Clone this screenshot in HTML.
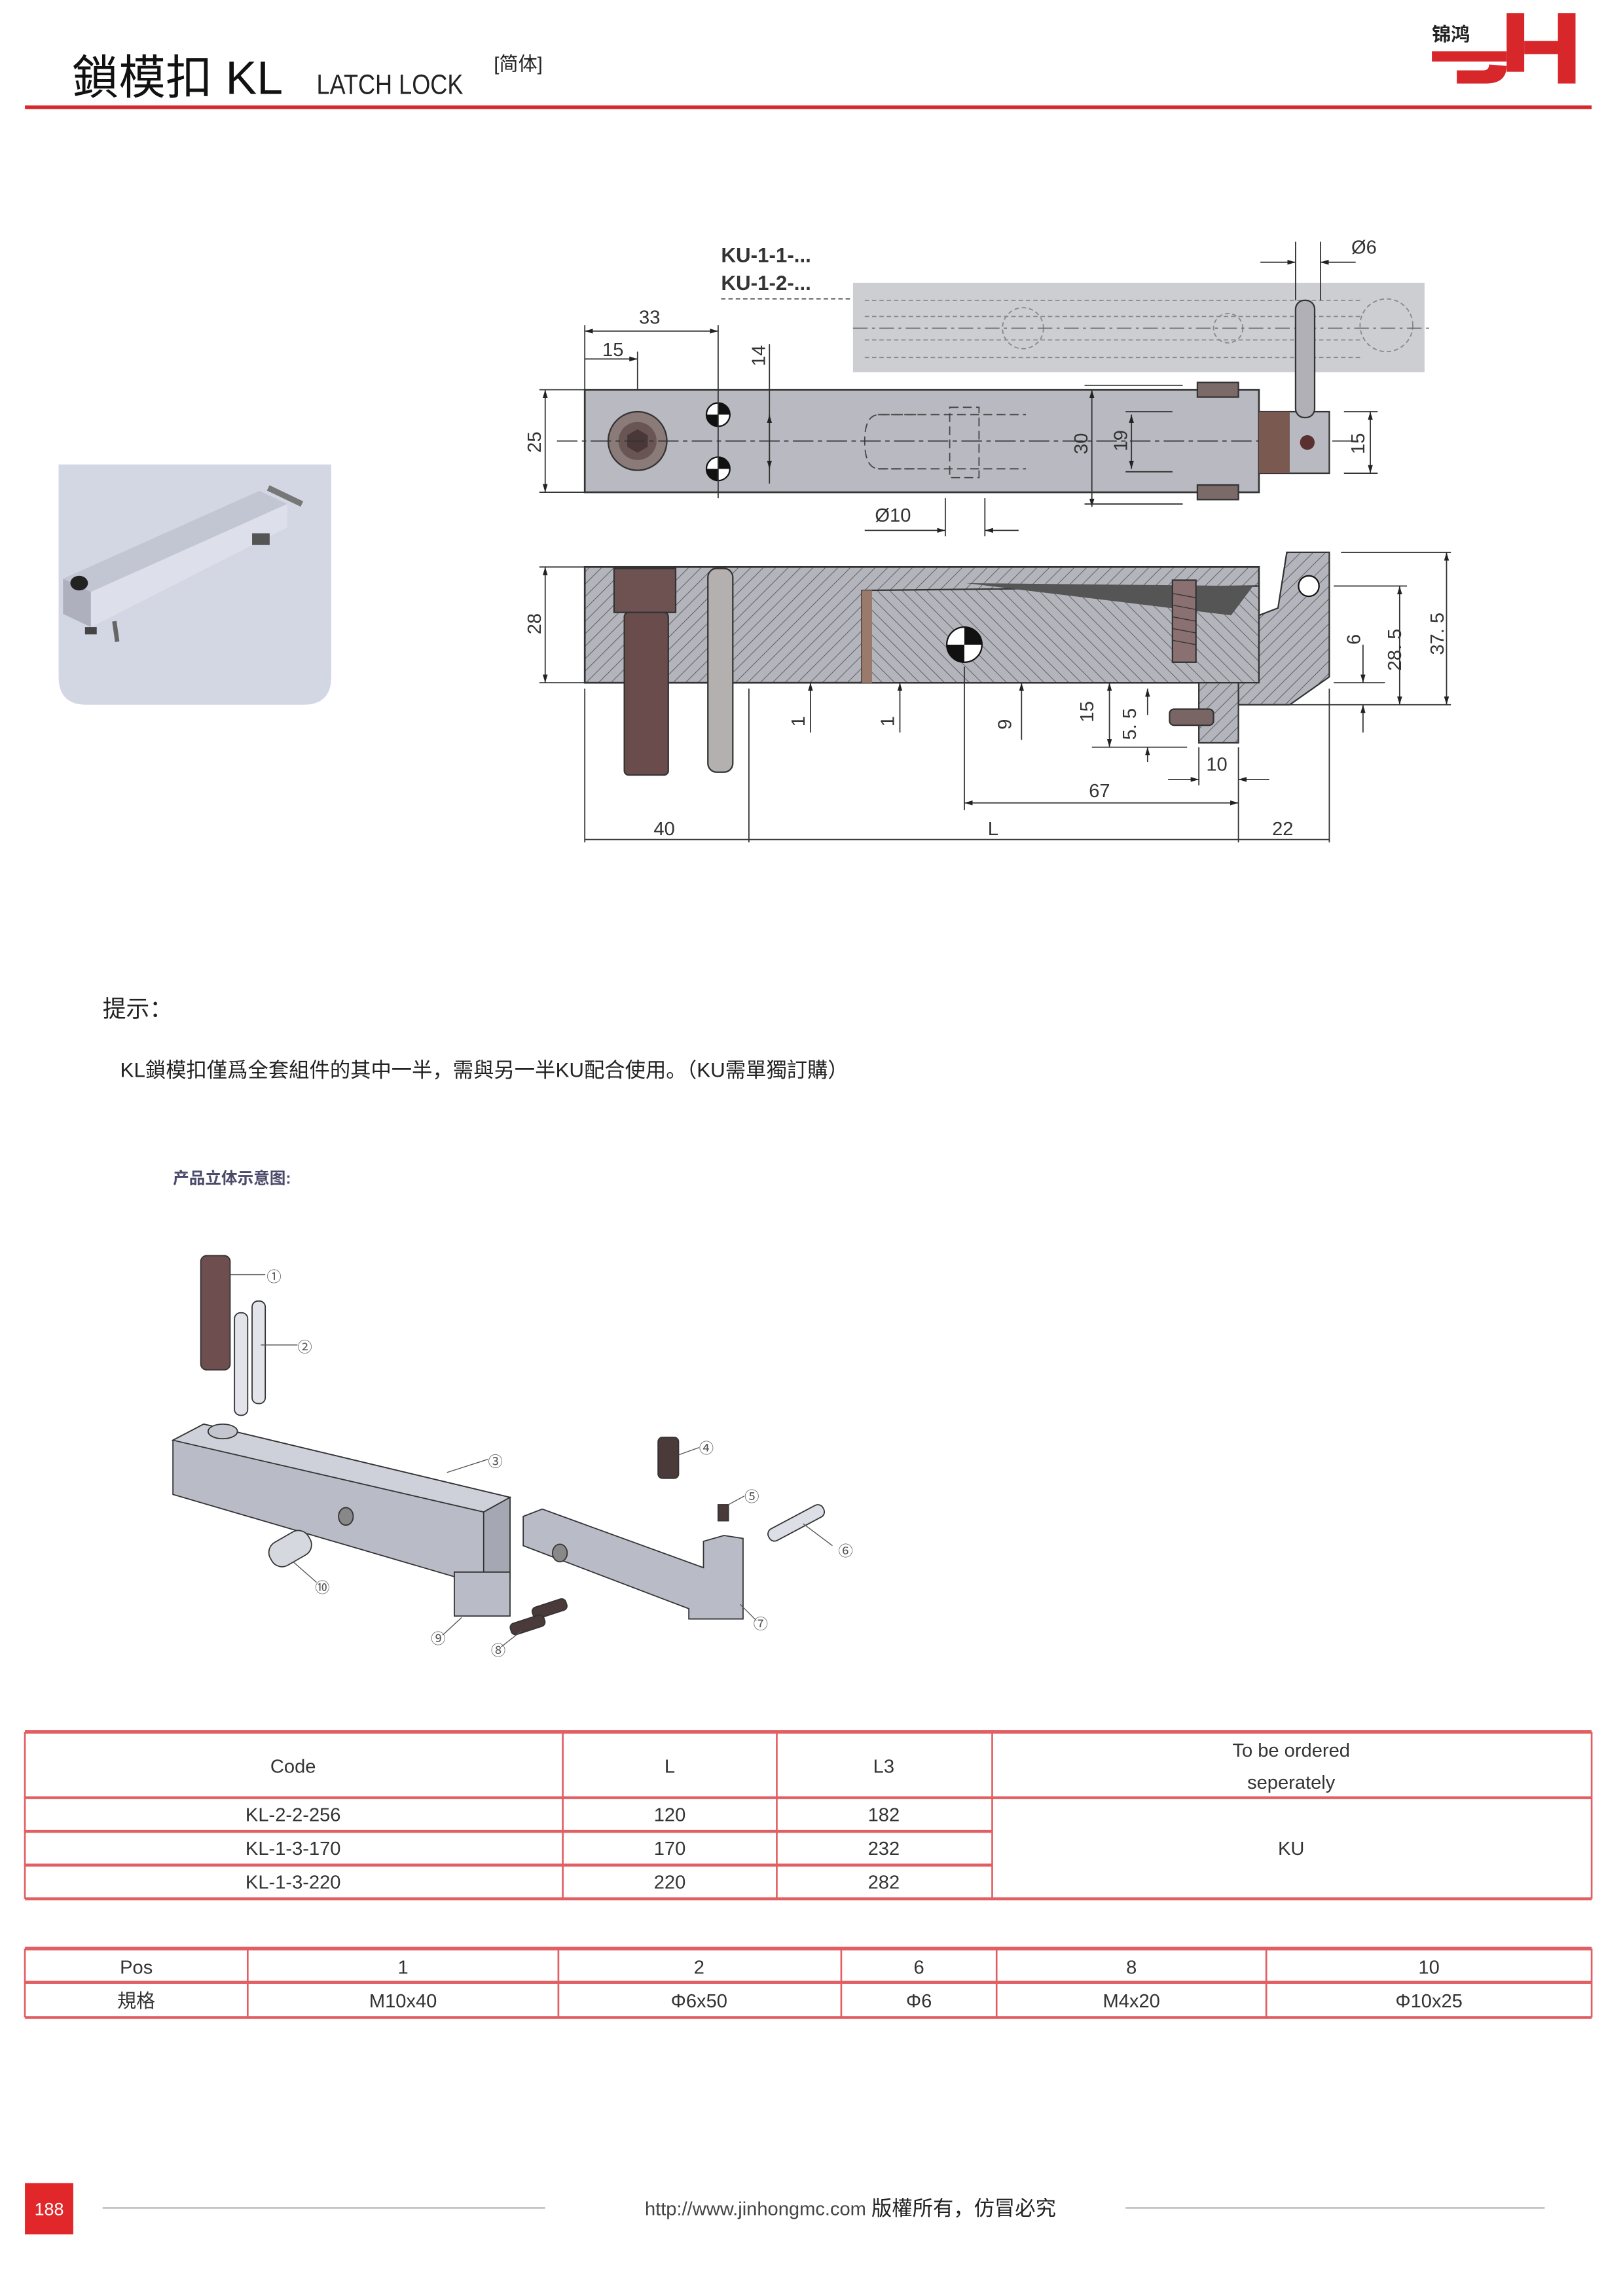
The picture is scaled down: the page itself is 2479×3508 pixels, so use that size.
<!DOCTYPE html>
<html><head><meta charset="utf-8"><style>
html,body{margin:0;padding:0;background:#fff}
svg{display:block}
text{font-family:"Liberation Sans","Noto Sans CJK SC",sans-serif}
</style></head><body>
<svg width="2479" height="3508" viewBox="0 0 1107.4 1567.1" preserveAspectRatio="none" xmlns="http://www.w3.org/2000/svg">
<defs>
<pattern id="h" width="6" height="6" patternUnits="userSpaceOnUse" patternTransform="rotate(45)">
<rect width="6" height="6" fill="#b4b5bc"/><line x1="0" y1="0" x2="0" y2="6" stroke="#555" stroke-width="0.8"/></pattern>
<pattern id="h2" width="6" height="6" patternUnits="userSpaceOnUse" patternTransform="rotate(-45)">
<rect width="6" height="6" fill="#b4b5bc"/><line x1="0" y1="0" x2="0" y2="6" stroke="#555" stroke-width="0.8"/></pattern>
<marker id="a" viewBox="0 0 10 10" refX="10" refY="5" markerWidth="7" markerHeight="7" orient="auto-start-reverse"><path d="M0,2 L10,5 L0,8z" fill="#222"/></marker>
</defs>
<rect width="1107.4" height="1567.1" fill="#fff"/>
<!-- header -->
<text x="49" y="64" font-size="32" fill="#111">鎖模扣 KL</text>
<text x="216" y="64" font-size="19" fill="#222" textLength="100" lengthAdjust="spacingAndGlyphs">LATCH LOCK</text>
<text x="337" y="48" font-size="13" fill="#222">[简体]</text>
<rect x="17" y="72" width="1069" height="2.5" fill="#d8272a"/>
<!-- logo -->
<g fill="#d8272a">
<rect x="1028" y="9" width="12" height="40"/>
<rect x="1063" y="9" width="12" height="48"/>
<rect x="1040" y="28" width="24" height="9"/>
<path d="M1028 45 q0 12 -14 12 h-20 v-9 h18 q4 0 4 -4 z"/>
<rect x="977" y="35" width="51" height="7"/>
</g>
<text x="977" y="28" font-size="13" font-weight="bold" fill="#222">锦鸿</text>
<!-- photo -->
<path d="M40 317 H226 V462 Q226 481 207 481 H59 Q40 481 40 462 Z" fill="#d3d7e4"/>
<polygon points="43,395 177,335 196,344 62,404" fill="#c2c5d2"/>
<polygon points="62,404 196,344 196,360 62,428" fill="#dde0ea"/>
<polygon points="43,395 62,404 62,428 43,419" fill="#aeb1bd"/>
<ellipse cx="54" cy="398" rx="6" ry="5" fill="#222"/>
<line x1="183" y1="333" x2="206" y2="344" stroke="#777" stroke-width="4"/>
<rect x="172" y="364" width="12" height="8" fill="#555"/>
<line x1="78" y1="424" x2="80" y2="438" stroke="#666" stroke-width="3"/>
<rect x="58" y="428" width="8" height="5" fill="#444"/>
<!-- KU band -->
<rect x="582" y="193" width="390" height="61" fill="#cdced2"/>
<g stroke="#888" stroke-width="0.8" fill="none" stroke-dasharray="3,2">
<line x1="590" y1="205" x2="930" y2="205"/><line x1="590" y1="216" x2="930" y2="216"/><line x1="590" y1="232" x2="930" y2="232"/><line x1="590" y1="244" x2="930" y2="244"/>
<circle cx="698" cy="224" r="14"/><circle cx="838" cy="224" r="10"/><circle cx="946" cy="222" r="18"/>
</g>
<line x1="492" y1="204" x2="582" y2="204" stroke="#444" stroke-dasharray="3,2" stroke-width="0.8"/>
<line x1="582" y1="224" x2="975" y2="224" stroke="#666" stroke-dasharray="10,3,2,3" stroke-width="0.7"/>
<text x="492" y="179" font-size="14" font-weight="bold" fill="#333">KU-1-1-...</text>
<text x="492" y="198" font-size="14" font-weight="bold" fill="#333">KU-1-2-...</text>
<!-- top view -->
<rect x="399" y="266" width="460" height="70" fill="#b9bac1" stroke="#333" stroke-width="1.2"/>
<circle cx="435" cy="301" r="20" fill="#8a7a78" stroke="#333"/>
<circle cx="435" cy="301" r="13" fill="#6a5555"/>
<polygon points="435,293 442,297 442,305 435,309 428,305 428,297" fill="#4a3838"/>
<g fill="#fff" stroke="#111"><circle cx="490" cy="283" r="8"/><circle cx="490" cy="320" r="8"/></g>
<path d="M482,283 A8 8 0 0 0 490 291 V283Z M490,275 A8 8 0 0 1 498 283 H490Z M482,320 A8 8 0 0 0 490 328 V320Z M490,312 A8 8 0 0 1 498 320 H490Z" fill="#111"/>
<g stroke="#444" stroke-width="0.8" fill="none" stroke-dasharray="6,3">
<path d="M625 283 H600 Q590 283 590 301 Q590 320 600 320 H625"/>
<rect x="648" y="278" width="20" height="48"/><line x1="599" y1="283" x2="700" y2="283"/><line x1="599" y1="320" x2="700" y2="320"/>
</g>
<line x1="380" y1="301" x2="925" y2="301" stroke="#333" stroke-width="0.7" stroke-dasharray="14,3,3,3"/>
<rect x="817" y="261" width="28" height="10" fill="#7a6a68" stroke="#333"/>
<rect x="817" y="331" width="28" height="10" fill="#7a6a68" stroke="#333"/>
<rect x="859" y="281" width="48" height="42" fill="#b9bac1" stroke="#333"/>
<rect x="859" y="281" width="21" height="42" fill="#7a5a50"/>
<circle cx="892" cy="302" r="5" fill="#5a3030"/>
<rect x="884" y="205" width="13" height="80" rx="6" fill="#b0b0b6" stroke="#333"/>
<!-- top dims -->
<g stroke="#333" stroke-width="0.8" fill="none">
<line x1="399" y1="222" x2="399" y2="266"/><line x1="490" y1="222" x2="490" y2="340"/><line x1="435" y1="240" x2="435" y2="266"/>
<line x1="399" y1="226" x2="490" y2="226" marker-start="url(#a)" marker-end="url(#a)"/>
<line x1="399" y1="245" x2="435" y2="245" marker-end="url(#a)"/>
<line x1="525" y1="235" x2="525" y2="330"/><line x1="525" y1="283" x2="525" y2="320" marker-start="url(#a)" marker-end="url(#a)"/>
<line x1="368" y1="266" x2="399" y2="266"/><line x1="368" y1="336" x2="399" y2="336"/>
<line x1="372" y1="266" x2="372" y2="336" marker-start="url(#a)" marker-end="url(#a)"/>
<line x1="745" y1="266" x2="745" y2="346" marker-start="url(#a)" marker-end="url(#a)"/>
<line x1="740" y1="263" x2="807" y2="263"/><line x1="740" y1="344" x2="807" y2="344"/>
<line x1="772" y1="283" x2="772" y2="320" marker-start="url(#a)" marker-end="url(#a)"/>
<line x1="768" y1="281" x2="800" y2="281"/><line x1="768" y1="322" x2="800" y2="322"/>
<line x1="935" y1="281" x2="935" y2="323" marker-start="url(#a)" marker-end="url(#a)"/>
<line x1="917" y1="281" x2="940" y2="281"/><line x1="917" y1="323" x2="940" y2="323"/>
<line x1="645" y1="340" x2="645" y2="366"/><line x1="672" y1="340" x2="672" y2="366"/>
<line x1="590" y1="362" x2="645" y2="362" marker-end="url(#a)"/><line x1="695" y1="362" x2="672" y2="362" marker-end="url(#a)"/>
<line x1="884" y1="165" x2="884" y2="205"/><line x1="901" y1="165" x2="901" y2="205"/>
<line x1="860" y1="179" x2="884" y2="179" marker-end="url(#a)"/><line x1="925" y1="179" x2="901" y2="179" marker-end="url(#a)"/>
</g>
<g font-size="13" fill="#333">
<text x="436" y="221">33</text><text x="411" y="243">15</text>
<text x="597" y="356">Ø10</text><text x="922" y="173">Ø6</text>
<text transform="translate(369,309) rotate(-90)">25</text>
<text transform="translate(522,250) rotate(-90)">14</text>
<text transform="translate(742,310) rotate(-90)">30</text>
<text transform="translate(769,308) rotate(-90)">19</text>
<text transform="translate(931,310) rotate(-90)">15</text>
</g>
<!-- section view -->
<rect x="399" y="387" width="460" height="79" fill="url(#h)" stroke="#333" stroke-width="1.2"/>
<polygon points="588,403 859,400 859,466 588,466" fill="url(#h2)" stroke="#333"/>
<rect x="588" y="403" width="7" height="63" fill="#9a7a6a"/>
<polygon points="659,398 855,400 840,420" fill="#555"/>
<polygon points="878,377 907,377 907,462 880,481 845,481 845,466 859,466 859,420 872,415" fill="url(#h)" stroke="#333"/>
<rect x="818" y="466" width="27" height="41" fill="url(#h)" stroke="#333"/>
<rect x="798" y="484" width="30" height="11" rx="3" fill="#7a6565" stroke="#333"/>
<rect x="800" y="396" width="16" height="56" fill="#8a7070" stroke="#333"/>
<g stroke="#333" stroke-width="0.6"><line x1="800" y1="405" x2="816" y2="408"/><line x1="800" y1="413" x2="816" y2="416"/><line x1="800" y1="421" x2="816" y2="424"/><line x1="800" y1="429" x2="816" y2="432"/><line x1="800" y1="437" x2="816" y2="440"/></g>
<circle cx="658" cy="440" r="12" fill="#fff" stroke="#111"/>
<path d="M646,440 A12 12 0 0 0 658 452 V440Z M658,428 A12 12 0 0 1 670 440 H658Z" fill="#111"/>
<circle cx="893" cy="400" r="7" fill="#fff" stroke="#111"/>
<rect x="419" y="388" width="42" height="30" fill="#6e5252" stroke="#333"/>
<rect x="426" y="418" width="30" height="111" rx="3" fill="#6a4c4c" stroke="#333"/>
<rect x="483" y="388" width="17" height="139" rx="6" fill="#b5b0b0" stroke="#333"/>
<g stroke="#333" stroke-width="0.8" fill="none">
<line x1="368" y1="387" x2="399" y2="387"/><line x1="368" y1="466" x2="399" y2="466"/>
<line x1="372" y1="387" x2="372" y2="466" marker-start="url(#a)" marker-end="url(#a)"/>
<line x1="399" y1="470" x2="399" y2="575"/><line x1="511" y1="470" x2="511" y2="575"/><line x1="845" y1="510" x2="845" y2="575"/><line x1="907" y1="470" x2="907" y2="575"/>
<line x1="399" y1="573" x2="907" y2="573"/>
<line x1="658" y1="455" x2="658" y2="553"/>
<line x1="658" y1="548" x2="845" y2="548" marker-start="url(#a)" marker-end="url(#a)"/>
<line x1="797" y1="532" x2="818" y2="532" marker-end="url(#a)"/><line x1="866" y1="532" x2="845" y2="532" marker-end="url(#a)"/>
<line x1="818" y1="510" x2="818" y2="536"/>
<line x1="553" y1="500" x2="553" y2="466" marker-end="url(#a)"/>
<line x1="614" y1="500" x2="614" y2="466" marker-end="url(#a)"/>
<line x1="697" y1="505" x2="697" y2="466" marker-end="url(#a)"/>
<line x1="757" y1="466" x2="757" y2="510" marker-start="url(#a)" marker-end="url(#a)"/>
<line x1="783" y1="488" x2="783" y2="470" marker-end="url(#a)"/><line x1="783" y1="520" x2="783" y2="510" marker-end="url(#a)"/>
<line x1="745" y1="510" x2="810" y2="510"/>
<line x1="915" y1="377" x2="990" y2="377"/><line x1="910" y1="400" x2="960" y2="400"/><line x1="910" y1="466" x2="945" y2="466"/><line x1="880" y1="481" x2="990" y2="481"/>
<line x1="987" y1="377" x2="987" y2="481" marker-start="url(#a)" marker-end="url(#a)"/>
<line x1="955" y1="400" x2="955" y2="481" marker-start="url(#a)" marker-end="url(#a)"/>
<line x1="930" y1="440" x2="930" y2="466" marker-end="url(#a)"/><line x1="930" y1="500" x2="930" y2="481" marker-end="url(#a)"/>
</g>
<g font-size="13" fill="#333">
<text transform="translate(369,433) rotate(-90)">28</text>
<text x="446" y="570">40</text><text x="674" y="570">L</text><text x="868" y="570">22</text>
<text x="743" y="544">67</text><text x="823" y="526">10</text>
<text transform="translate(549,496) rotate(-90)">1</text>
<text transform="translate(610,496) rotate(-90)">1</text>
<text transform="translate(690,498) rotate(-90)">9</text>
<text transform="translate(746,493) rotate(-90)">15</text>
<text transform="translate(775,505) rotate(-90)">5. 5</text>
<text transform="translate(928,440) rotate(-90)">6</text>
<text transform="translate(956,458) rotate(-90)">28. 5</text>
<text transform="translate(985,447) rotate(-90)">37. 5</text>
</g>
<!-- notes -->
<text x="70" y="694" font-size="16" fill="#222">提示：</text>
<text x="82" y="735" font-size="14" fill="#222">KL鎖模扣僅爲全套組件的其中一半，需與另一半KU配合使用。（KU需單獨訂購）</text>
<text x="118" y="808" font-size="11" font-weight="bold" fill="#4a4a6a">产品立体示意图:</text>
<!-- exploded -->
<g stroke="#333" stroke-width="0.8">
<rect x="137" y="857" width="20" height="78" rx="4" fill="#6e4e4e"/>
<rect x="160" y="896" width="9" height="70" rx="4" fill="#e2e4ea"/>
<rect x="172" y="888" width="9" height="70" rx="4" fill="#e2e4ea"/>
<polygon points="118,983 139,972 348,1022 348,1078 330,1082 118,1020" fill="#b9bcc7"/>
<polygon points="118,983 139,972 348,1022 330,1032" fill="#cfd1da"/>
<polygon points="330,1032 348,1022 348,1078 330,1082" fill="#a5a8b3"/>
<ellipse cx="152" cy="977" rx="10" ry="5" fill="#c4c6cf"/>
<ellipse cx="236" cy="1035" rx="5" ry="6" fill="#888"/>
<polygon points="357,1035 370,1030 480,1070 480,1052 494,1048 507,1050 507,1105 470,1105 470,1098 357,1055" fill="#b9bcc7"/>
<ellipse cx="382" cy="1060" rx="5" ry="6" fill="#888"/>
<rect x="310" y="1073" width="38" height="30" fill="#b9bcc7"/>
<rect x="449" y="981" width="14" height="28" rx="3" fill="#4a3a3a"/>
<rect x="490" y="1027" width="7" height="11" fill="#4a3a3a"/>
<rect x="522" y="1035" width="42" height="9" rx="4" fill="#dcdfe6" transform="rotate(-28 543 1039)"/>
<rect x="183" y="1048" width="30" height="18" rx="8" fill="#d6d8e0" transform="rotate(-30 198 1057)"/>
<rect x="363" y="1094" width="24" height="8" rx="3" fill="#4a3a3a" transform="rotate(-18 375 1098)"/>
<rect x="348" y="1105" width="24" height="8" rx="3" fill="#4a3a3a" transform="rotate(-18 360 1109)"/>
</g>
<g stroke="#555" stroke-width="0.6" fill="none">
<line x1="157" y1="870" x2="181" y2="870"/><line x1="178" y1="918" x2="203" y2="918"/><line x1="305" y1="1005" x2="333" y2="996"/>
<line x1="463" y1="993" x2="477" y2="988"/><line x1="497" y1="1027" x2="508" y2="1021"/><line x1="548" y1="1040" x2="568" y2="1055"/>
<line x1="505" y1="1095" x2="516" y2="1106"/><line x1="200" y1="1066" x2="216" y2="1080"/><line x1="315" y1="1104" x2="302" y2="1116"/><line x1="356" y1="1113" x2="342" y2="1124"/>
</g>
<g font-size="10" fill="#555">
<text x="182" y="875">①</text><text x="203" y="923">②</text><text x="333" y="1001">③</text><text x="477" y="992">④</text>
<text x="508" y="1025">⑤</text><text x="572" y="1062">⑥</text><text x="514" y="1112">⑦</text><text x="335" y="1130">⑧</text>
<text x="294" y="1122">⑨</text><text x="215" y="1087">⑩</text>
</g>
<!-- table 1 -->
<g stroke="#e15f63" stroke-width="1.2" fill="none">
<line x1="17" y1="1182" x2="1086" y2="1182" stroke-width="2.5"/>
<line x1="17" y1="1227" x2="1086" y2="1227" stroke-width="2"/>
<line x1="17" y1="1250" x2="677" y2="1250" stroke-width="2"/>
<line x1="17" y1="1273" x2="677" y2="1273" stroke-width="2"/>
<line x1="17" y1="1296" x2="1086" y2="1296" stroke-width="2"/>
<line x1="17" y1="1182" x2="17" y2="1296"/><line x1="384" y1="1182" x2="384" y2="1296"/><line x1="530" y1="1182" x2="530" y2="1296"/><line x1="677" y1="1182" x2="677" y2="1296"/><line x1="1086" y1="1182" x2="1086" y2="1296"/>
</g>
<g font-size="13" fill="#333" text-anchor="middle">
<text x="200" y="1210">Code</text><text x="457" y="1210">L</text><text x="603" y="1210">L3</text>
<text x="881" y="1199">To be ordered</text><text x="881" y="1221">seperately</text>
<text x="200" y="1243">KL-2-2-256</text><text x="457" y="1243">120</text><text x="603" y="1243">182</text>
<text x="200" y="1266">KL-1-3-170</text><text x="457" y="1266">170</text><text x="603" y="1266">232</text>
<text x="200" y="1289">KL-1-3-220</text><text x="457" y="1289">220</text><text x="603" y="1289">282</text>
<text x="881" y="1266">KU</text>
</g>
<!-- table 2 -->
<g stroke="#e15f63" stroke-width="1.2" fill="none">
<line x1="17" y1="1330" x2="1086" y2="1330" stroke-width="2.5"/>
<line x1="17" y1="1353" x2="1086" y2="1353" stroke-width="2"/>
<line x1="17" y1="1377" x2="1086" y2="1377" stroke-width="2"/>
<line x1="17" y1="1330" x2="17" y2="1377"/><line x1="169" y1="1330" x2="169" y2="1377"/><line x1="381" y1="1330" x2="381" y2="1377"/><line x1="574" y1="1330" x2="574" y2="1377"/><line x1="680" y1="1330" x2="680" y2="1377"/><line x1="864" y1="1330" x2="864" y2="1377"/><line x1="1086" y1="1330" x2="1086" y2="1377"/>
</g>
<g font-size="13" fill="#333" text-anchor="middle">
<text x="93" y="1347">Pos</text><text x="275" y="1347">1</text><text x="477" y="1347">2</text><text x="627" y="1347">6</text><text x="772" y="1347">8</text><text x="975" y="1347">10</text>
<text x="93" y="1370">規格</text><text x="275" y="1370">M10x40</text><text x="477" y="1370">Φ6x50</text><text x="627" y="1370">Φ6</text><text x="772" y="1370">M4x20</text><text x="975" y="1370">Φ10x25</text>
</g>
<!-- footer -->
<rect x="17" y="1490" width="33" height="35" fill="#e2272b"/>
<text x="33.5" y="1512" font-size="12" fill="#fff" text-anchor="middle">188</text>
<line x1="70" y1="1507" x2="372" y2="1507" stroke="#999" stroke-width="0.8"/>
<line x1="768" y1="1507" x2="1054" y2="1507" stroke="#999" stroke-width="0.8"/>
<text x="440" y="1512" font-size="13" fill="#444">http://www.jinhongmc.com <tspan font-size="14" fill="#222">版權所有，仿冒必究</tspan></text>
</svg>
</body></html>
